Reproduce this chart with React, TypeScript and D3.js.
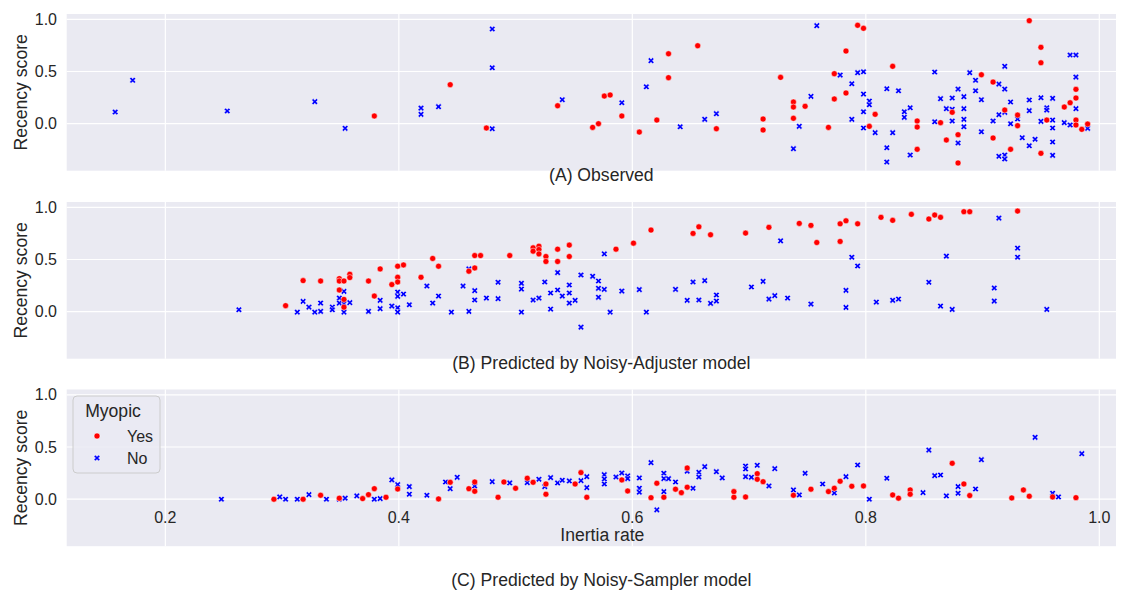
import React from 'react'
import * as d3 from 'd3'

type Pt = [number, number]

// (A) Observed
const observedYes: Pt[] = [
  [0.379, 0.074], [0.444, 0.374], [0.475, -0.041], [0.536, 0.172], [0.566, -0.035],
  [0.571, 0.0], [0.576, 0.265], [0.581, 0.275], [0.591, 0.074], [0.606, -0.08],
  [0.621, 0.035], [0.631, 0.67], [0.631, 0.441], [0.656, 0.747], [0.672, -0.048],
  [0.712, 0.045], [0.712, -0.06], [0.727, 0.444], [0.738, 0.208], [0.738, 0.16],
  [0.738, 0.052], [0.748, 0.167], [0.768, -0.035], [0.773, 0.479], [0.773, 0.237],
  [0.783, 0.696], [0.783, 0.294], [0.793, 0.943], [0.798, 0.914], [0.803, -0.025],
  [0.808, 0.09], [0.823, 0.55], [0.844, 0.026], [0.844, -0.032], [0.844, -0.245],
  [0.864, 0.01], [0.869, -0.156], [0.874, 0.109], [0.879, -0.105], [0.879, -0.376],
  [0.899, 0.469], [0.909, 0.399], [0.909, -0.137], [0.919, 0.131], [0.924, -0.245],
  [0.93, 0.083], [0.93, -0.019], [0.94, 0.987], [0.95, 0.732], [0.95, 0.584],
  [0.95, -0.284], [0.955, 0.035], [0.97, 0.16], [0.975, 0.201], [0.98, 0.329],
  [0.98, 0.246], [0.98, 0.035], [0.98, -0.012], [0.985, -0.054], [0.99, -0.003],
]
const observedNo: Pt[] = [
  [0.157, 0.112], [0.172, 0.416], [0.253, 0.122], [0.328, 0.211], [0.354, -0.044],
  [0.419, 0.15], [0.419, 0.09], [0.434, 0.163], [0.48, 0.907], [0.48, 0.536],
  [0.48, -0.048], [0.54, 0.23], [0.591, 0.201], [0.612, 0.354], [0.616, 0.604],
  [0.641, -0.029], [0.662, 0.042], [0.672, 0.096], [0.738, -0.239], [0.743, -0.025],
  [0.753, 0.262], [0.758, 0.939], [0.778, 0.466], [0.788, 0.383], [0.788, 0.042],
  [0.793, 0.489], [0.798, 0.498], [0.798, 0.284], [0.798, 0.115], [0.798, -0.041],
  [0.803, 0.217], [0.803, 0.182], [0.808, -0.086], [0.818, 0.335], [0.818, -0.23],
  [0.818, -0.367], [0.823, -0.086], [0.828, 0.316], [0.833, 0.115], [0.833, 0.061],
  [0.838, 0.153], [0.838, -0.3], [0.859, 0.495], [0.859, 0.019], [0.864, 0.24],
  [0.869, 0.144], [0.874, 0.246], [0.874, 0.138], [0.874, 0.026], [0.879, 0.332],
  [0.879, -0.185], [0.884, 0.259], [0.884, 0.144], [0.884, 0.042], [0.884, -0.029],
  [0.889, 0.489], [0.894, 0.416], [0.894, 0.316], [0.899, 0.23], [0.899, -0.077],
  [0.909, 0.026], [0.914, 0.38], [0.914, 0.086], [0.914, -0.312], [0.919, 0.55],
  [0.919, 0.332], [0.919, 0.109], [0.919, -0.3], [0.919, -0.338], [0.924, 0.208],
  [0.924, 0.0], [0.93, 0.045], [0.934, -0.134], [0.94, 0.227], [0.94, 0.125],
  [0.94, -0.211], [0.945, -0.149], [0.95, 0.249], [0.95, 0.023], [0.955, 0.153],
  [0.955, 0.131], [0.96, 0.243], [0.96, 0.035], [0.96, -0.041], [0.96, -0.175],
  [0.96, -0.303], [0.97, 0.01], [0.975, 0.658], [0.975, -0.012], [0.98, 0.658],
  [0.98, 0.447], [0.98, 0.144], [0.99, -0.044],
]

// (B) Predicted by Noisy-Adjuster model
const adjusterYes: Pt[] = [
  [0.303, 0.058], [0.318, 0.298], [0.333, 0.294], [0.349, 0.317], [0.349, 0.294],
  [0.349, 0.208], [0.353, 0.294], [0.353, 0.118], [0.353, 0.044], [0.358, 0.359],
  [0.358, 0.327], [0.374, 0.294], [0.379, 0.15], [0.384, 0.41], [0.394, 0.26],
  [0.399, 0.436], [0.399, 0.33], [0.399, 0.285], [0.404, 0.448], [0.419, 0.33],
  [0.429, 0.51], [0.434, 0.436], [0.46, 0.388], [0.465, 0.538], [0.47, 0.538],
  [0.465, 0.419], [0.495, 0.538], [0.515, 0.612], [0.515, 0.58], [0.52, 0.628],
  [0.52, 0.596], [0.52, 0.554], [0.526, 0.529], [0.526, 0.481], [0.536, 0.599],
  [0.536, 0.481], [0.546, 0.638], [0.546, 0.529], [0.586, 0.599], [0.601, 0.657],
  [0.616, 0.782], [0.652, 0.75], [0.657, 0.813], [0.667, 0.737], [0.697, 0.753],
  [0.717, 0.808], [0.743, 0.846], [0.753, 0.827], [0.758, 0.663], [0.778, 0.842],
  [0.783, 0.871], [0.793, 0.842], [0.778, 0.673], [0.813, 0.904], [0.823, 0.875],
  [0.839, 0.933], [0.854, 0.888], [0.859, 0.926], [0.864, 0.904], [0.884, 0.958],
  [0.889, 0.958], [0.93, 0.964],
]
const adjusterNo: Pt[] = [
  [0.263, 0.019], [0.313, -0.004], [0.318, 0.099], [0.323, 0.044], [0.328, -0.004],
  [0.333, 0.083], [0.333, 0.003], [0.343, 0.044], [0.343, 0.019], [0.349, 0.131],
  [0.349, 0.083], [0.353, 0.195], [0.353, 0.077], [0.353, -0.004], [0.358, 0.087],
  [0.374, 0.003], [0.384, 0.109], [0.384, 0.029], [0.394, 0.054], [0.399, 0.188],
  [0.399, 0.147], [0.399, 0.038], [0.399, -0.004], [0.404, 0.169], [0.409, 0.067],
  [0.424, 0.246], [0.429, 0.083], [0.434, 0.15], [0.445, -0.004], [0.455, 0.246],
  [0.46, 0.41], [0.46, 0.003], [0.465, 0.202], [0.465, 0.112], [0.475, 0.131],
  [0.485, 0.282], [0.485, 0.125], [0.505, 0.272], [0.505, 0.217], [0.505, -0.004],
  [0.515, 0.112], [0.52, 0.131], [0.525, 0.285], [0.53, 0.179], [0.53, 0.025],
  [0.536, 0.375], [0.536, 0.208], [0.54, 0.15], [0.546, 0.256], [0.546, 0.179],
  [0.546, 0.083], [0.551, 0.109], [0.556, 0.352], [0.556, -0.148], [0.566, 0.339],
  [0.571, 0.294], [0.571, 0.224], [0.571, 0.138], [0.576, 0.554], [0.576, 0.214],
  [0.581, -0.004], [0.591, 0.198], [0.606, 0.212], [0.612, -0.004], [0.637, 0.214],
  [0.647, 0.109], [0.652, 0.285], [0.657, 0.112], [0.662, 0.298], [0.667, 0.08],
  [0.672, 0.16], [0.672, 0.102], [0.702, 0.237], [0.712, 0.291], [0.717, 0.121],
  [0.722, 0.154], [0.727, 0.679], [0.733, 0.131], [0.753, 0.073], [0.783, 0.205],
  [0.783, 0.041], [0.788, 0.522], [0.793, 0.438], [0.809, 0.092], [0.823, 0.109],
  [0.828, 0.121], [0.854, 0.282], [0.864, 0.054], [0.869, 0.532], [0.874, 0.022],
  [0.91, 0.227], [0.91, 0.102], [0.914, 0.897], [0.93, 0.609], [0.93, 0.522],
  [0.955, 0.022],
]

// (C) Predicted by Noisy-Sampler model
const samplerYes: Pt[] = [
  [0.293, 0.0], [0.318, 0.0], [0.333, 0.038], [0.349, 0.01], [0.369, 0.006],
  [0.374, 0.044], [0.379, 0.101], [0.389, 0.019], [0.399, 0.098], [0.434, 0.003],
  [0.444, 0.162], [0.46, 0.101], [0.465, 0.076], [0.465, 0.165], [0.485, 0.019],
  [0.49, 0.165], [0.5, 0.105], [0.51, 0.201], [0.515, 0.162], [0.526, 0.048],
  [0.526, 0.146], [0.551, 0.146], [0.556, 0.255], [0.561, 0.019], [0.591, 0.185],
  [0.596, 0.079], [0.616, 0.015], [0.621, 0.153], [0.627, 0.019], [0.637, 0.096],
  [0.642, 0.063], [0.647, 0.115], [0.647, 0.299], [0.687, 0.073], [0.687, 0.019],
  [0.697, 0.022], [0.707, 0.245], [0.707, 0.191], [0.712, 0.168], [0.738, 0.038],
  [0.753, 0.096], [0.768, 0.073], [0.773, 0.105], [0.778, 0.172], [0.788, 0.124],
  [0.798, 0.127], [0.823, 0.041], [0.828, 0.01], [0.838, 0.089], [0.838, 0.048],
  [0.874, 0.344], [0.884, 0.146], [0.889, 0.035], [0.925, 0.012], [0.935, 0.089],
  [0.94, 0.029], [0.96, 0.022], [0.98, 0.015],
]
const samplerNo: Pt[] = [
  [0.248, 0.0], [0.298, 0.022], [0.303, 0.0], [0.313, 0.0], [0.323, 0.044],
  [0.338, 0.0], [0.349, 0.0], [0.354, 0.01], [0.364, 0.032], [0.379, 0.0],
  [0.384, 0.006], [0.394, 0.185], [0.399, 0.14], [0.409, 0.121], [0.409, 0.048],
  [0.424, 0.038], [0.44, 0.165], [0.444, 0.101], [0.45, 0.21], [0.465, 0.127],
  [0.48, 0.168], [0.495, 0.156], [0.51, 0.159], [0.52, 0.191], [0.525, 0.121],
  [0.53, 0.207], [0.536, 0.156], [0.54, 0.182], [0.546, 0.175], [0.556, 0.178],
  [0.561, 0.216], [0.561, 0.111], [0.576, 0.235], [0.576, 0.194], [0.576, 0.146],
  [0.586, 0.213], [0.591, 0.251], [0.596, 0.223], [0.596, 0.198], [0.606, 0.204],
  [0.606, 0.105], [0.606, 0.067], [0.616, 0.35], [0.621, -0.102], [0.627, 0.249],
  [0.627, 0.198], [0.627, 0.073], [0.631, 0.197], [0.637, 0.165], [0.647, 0.268],
  [0.652, 0.105], [0.657, 0.258], [0.657, 0.213], [0.662, 0.312], [0.672, 0.264],
  [0.677, 0.204], [0.697, 0.318], [0.697, 0.29], [0.697, 0.216], [0.702, 0.21],
  [0.707, 0.325], [0.717, 0.127], [0.722, 0.293], [0.738, 0.089], [0.743, 0.041],
  [0.748, 0.249], [0.763, 0.146], [0.773, 0.06], [0.783, 0.216], [0.793, 0.328],
  [0.803, 0.0], [0.818, 0.201], [0.849, 0.063], [0.854, 0.471], [0.859, 0.226],
  [0.864, 0.232], [0.869, 0.032], [0.879, 0.121], [0.879, 0.057], [0.894, 0.098],
  [0.899, 0.379], [0.945, 0.593], [0.96, 0.057], [0.965, 0.022], [0.985, 0.436],
]

const panelTitles = [
  '(A) Observed',
  '(B) Predicted by Noisy-Adjuster model',
  '(C) Predicted by Noisy-Sampler model',
]
const xTicks = [0.2, 0.4, 0.6, 0.8, 1.0]
const yTicks = [0.0, 0.5, 1.0]
const legendLabels = ['Yes', 'No']

const W = 1128
const H = 592
const left = 66.7
const right = 1116
const panelH = 156.7
const panelTops = [14, 202, 389.5]
const bg = '#EAEAF2'
const font = '"Liberation Sans", Arial, sans-serif'
const dotR = 3
const edge = 0.5

const x = d3.scaleLinear().domain([0.1155, 1.0143]).range([left, right])

// filled "X" marker, like matplotlib's 'X'
function xPath(L: number, w: number): string {
  const pts: Pt[] = [
    [w, L], [w, w], [L, w], [L, -w], [w, -w], [w, -L],
    [-w, -L], [-w, -w], [-L, -w], [-L, w], [-w, w], [-w, L],
  ]
  const c = Math.SQRT1_2
  return (
    'M' +
    pts.map(([a, b]) => `${(a * c - b * c).toFixed(2)},${(a * c + b * c).toFixed(2)}`).join('L') +
    'Z'
  )
}
const xMarker = xPath(3.3, 1.05)

function Panel({ i, yes, no }: { i: number; yes: Pt[]; no: Pt[] }) {
  const top = panelTops[i]
  const y = d3.scaleLinear().domain([-0.45, 1.051]).range([top + panelH, top])
  const last = i === 2
  return (
    <g>
      <rect x={left} y={top} width={right - left} height={panelH} fill={bg} />
      {xTicks.map((t) => (
        <line key={'gx' + t} x1={x(t)} x2={x(t)} y1={top} y2={top + panelH} stroke="#fff" strokeWidth={1.2} />
      ))}
      {yTicks.map((t) => (
        <line key={'gy' + t} x1={left} x2={right} y1={y(t)} y2={y(t)} stroke="#fff" strokeWidth={1.2} />
      ))}
      {yTicks.map((t) => (
        <text key={'ty' + t} x={57} y={y(t)} dy="0.35em" textAnchor="end" fontSize={16} fill="#262626">
          {d3.format('.1f')(t)}
        </text>
      ))}
      <text
        transform={`translate(21,${top + panelH / 2}) rotate(-90)`}
        textAnchor="middle"
        dy="0.35em"
        fontSize={17.6}
        fill="#262626"
      >
        Recency score
      </text>
      {no.map((d, k) => (
        <path key={'n' + k} d={xMarker} transform={`translate(${x(d[0])},${y(d[1])})`} fill="#0000ff" stroke="#fff" strokeWidth={edge} />
      ))}
      {yes.map((d, k) => (
        <circle key={'y' + k} cx={x(d[0])} cy={y(d[1])} r={dotR} fill="#ff0000" stroke="#fff" strokeWidth={edge} />
      ))}
      {last &&
        xTicks.map((t) => (
          <text key={'tx' + t} x={x(t)} y={517} dy="0.35em" textAnchor="middle" fontSize={16} fill="#262626">
            {d3.format('.1f')(t)}
          </text>
        ))}
      {last && (
        <text x={x(0.6) - 30} y={535} dy="0.35em" textAnchor="middle" fontSize={17.6} fill="#262626">
          Inertia rate
        </text>
      )}
      <text
        x={(left + right) / 2 + 10}
        y={last ? 580 : top + panelH + 4.5}
        dy="0.35em"
        textAnchor="middle"
        fontSize={17.6}
        fill="#262626"
      >
        {panelTitles[i]}
      </text>
    </g>
  )
}

function Legend() {
  const lx = 73
  const ly = 396
  return (
    <g>
      <rect x={lx} y={ly} width={87} height={77} rx={4} fill={bg} fillOpacity={0.8} stroke="#cccccc" strokeWidth={1} />
      <text x={lx + 40} y={ly + 15} dy="0.35em" textAnchor="middle" fontSize={17.6} fill="#262626">
        Myopic
      </text>
      <circle cx={lx + 24} cy={ly + 40} r={dotR} fill="#ff0000" stroke="#fff" strokeWidth={edge} />
      <text x={lx + 54} y={ly + 40} dy="0.35em" fontSize={16} fill="#262626">
        {legendLabels[0]}
      </text>
      <path d={xMarker} transform={`translate(${lx + 24},${ly + 62})`} fill="#0000ff" stroke="#fff" strokeWidth={edge} />
      <text x={lx + 54} y={ly + 62} dy="0.35em" fontSize={16} fill="#262626">
        {legendLabels[1]}
      </text>
    </g>
  )
}

export default function App() {
  return (
    <div style={{ position: 'absolute', left: 0, top: 0 }}>
      <svg width={W} height={H} viewBox={`0 0 ${W} ${H}`} style={{ display: 'block', fontFamily: font }}>
        <rect width={W} height={H} fill="#fff" />
        <Panel i={0} yes={observedYes} no={observedNo} />
        <Panel i={1} yes={adjusterYes} no={adjusterNo} />
        <Panel i={2} yes={samplerYes} no={samplerNo} />
        <Legend />
      </svg>
    </div>
  )
}
